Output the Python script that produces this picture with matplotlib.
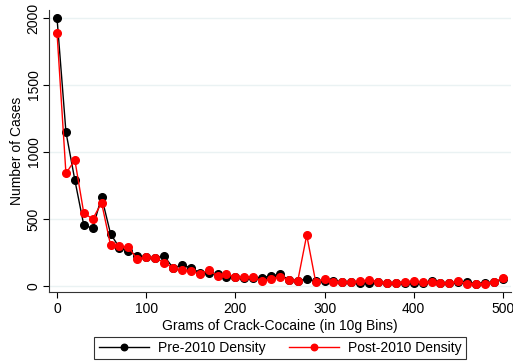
import matplotlib.pyplot as plt

# 10g bins of crack-cocaine, 0..500 g
grams = list(range(0, 510, 10))

pre_2010 = [2000, 1150, 790, 455, 430, 665, 390, 285, 260, 225,
            215, 205, 225, 135, 155, 137, 98, 95, 90, 70,
            65, 62, 62, 62, 75, 88, 45, 40, 50, 35,
            37, 37, 32, 27, 25, 25, 30, 22, 22, 20,
            25, 20, 37, 20, 20, 30, 28, 18, 25, 28, 55]

post_2010 = [1890, 840, 940, 545, 500, 620, 305, 298, 290, 200,
             218, 210, 175, 135, 120, 112, 90, 118, 75, 88,
             70, 68, 68, 37, 50, 70, 45, 40, 380, 32,
             52, 32, 32, 27, 37, 45, 32, 25, 25, 32,
             37, 27, 30, 20, 20, 37, 17, 17, 17, 30, 57]

x_ticks = [0, 100, 200, 300, 400, 500]
y_ticks = [0, 500, 1000, 1500, 2000]

plt.rcParams['font.family'] = ['Liberation Sans', 'DejaVu Sans']

fig = plt.figure(figsize=(5.13, 3.62), dpi=100)
ax = fig.add_axes([0.0955, 0.1934, 0.9005, 0.779])

ax.plot(grams, pre_2010, color='black', marker='o', markersize=5.5, linewidth=1,
        label='Pre-2010 Density')
ax.plot(grams, post_2010, color='red', marker='o', markersize=5.5, linewidth=1,
        label='Post-2010 Density')

ax.set_xlim(-9, 509)
ax.set_ylim(-45, 2060)
ax.set_xticks(x_ticks)
ax.set_yticks(y_ticks)
ax.tick_params(direction='out', length=4, width=0.8, labelsize=10, colors='black')
ax.tick_params(axis='y', pad=2)
for lab in ax.get_yticklabels():
    lab.set_rotation(90)
    lab.set_va('center')

ax.grid(axis='y', color='#eaf2f3', linewidth=1)
ax.set_axisbelow(True)
for s in ['top', 'right']:
    ax.spines[s].set_visible(False)
for s in ['left', 'bottom']:
    ax.spines[s].set_color('#333333')

ax.set_xlabel('Grams of Crack-Cocaine (in 10g Bins)', fontsize=10, labelpad=2)
ax.set_ylabel('Number of Cases', fontsize=10, labelpad=2)

leg = fig.legend(loc='lower center', bbox_to_anchor=(0.546, -0.012), ncol=2,
                 frameon=True, fancybox=False, fontsize=10, handlelength=3.6,
                 handletextpad=0.65, columnspacing=1.7, borderpad=0.3,
                 markerscale=0.85)
leg.get_frame().set_edgecolor('black')
leg.get_frame().set_linewidth(0.8)

fig.savefig('out.png', dpi=100)
